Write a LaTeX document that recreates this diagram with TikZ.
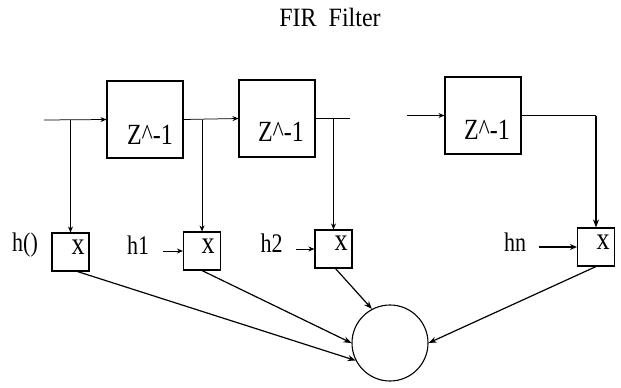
\documentclass[tikz,border=0pt]{standalone}
\usepackage{fontspec}
\usepackage{graphicx}
\setmainfont{Liberation Serif}
\usetikzlibrary{arrows.meta,calc}
\newcommand{\tallt}[1]{\scalebox{1}[1.22]{#1}}
\tikzset{
  delaybox/.style={draw,line width=1.1pt,minimum width=76pt,minimum height=77pt,inner sep=0pt},
  multbox/.style={draw,line width=1.1pt,minimum width=37pt,minimum height=38pt,inner sep=0pt},
  sumnode/.style={draw,circle,line width=1.1pt,minimum size=76pt,inner sep=0pt},
  lbl/.style={inner sep=0pt,font=\fontsize{22}{24}\selectfont},
  ztxt/.style={inner sep=0pt,font=\fontsize{24}{26}\selectfont},
  xtxt/.style={inner sep=0pt,font=\fontsize{26}{28}\selectfont},
  sig/.style={line width=0.75pt},
  sigarr/.style={line width=0.75pt,-{Stealth[length=6pt,width=5pt]}},
  diag/.style={line width=1.2pt,-{Stealth[length=8pt,width=6pt]}},
}
\begin{document}
\begin{tikzpicture}[x=1pt,y=-1pt]
\useasboundingbox (0,0) rectangle (621,388);
% title
\node[inner sep=0pt,font=\fontsize{24}{26}\selectfont] (title) at (330,17) {\scalebox{1}[1.1]{FIR\ \ Filter}};
% delay boxes
\node[delaybox] (b1) at (145,119.5) {};
\node[delaybox] (b2) at (277,118.5) {};
\node[delaybox] (b3) at (483,115.5) {};
\node[ztxt] (t1) at (150,135) {\tallt{Z\textasciicircum-1}};
\node[ztxt] (t2) at (281,132) {\tallt{Z\textasciicircum-1}};
\node[ztxt] (t3) at (487,130) {\tallt{Z\textasciicircum-1}};
% multipliers
\node[multbox] (m0) at (70.5,252) {};
\node[multbox] (m1) at (202,251) {};
\node[multbox] (m2) at (333.5,249) {};
\node[multbox] (m3) at (596,247) {};
\node[xtxt] (x0) at (78,247) {\tallt{x}};
\node[xtxt] (x1) at (208,246) {\tallt{x}};
\node[xtxt] (x2) at (341,243) {\tallt{x}};
\node[xtxt] (x3) at (603,242) {\tallt{x}};
% coefficient labels
\node[lbl] (h0) at (25,245) {\tallt{h()}};
\node[lbl] (h1) at (138,245) {\tallt{h1}};
\node[lbl] (h2) at (271.5,243) {\tallt{h2}};
\node[lbl] (hn) at (515,242) {\tallt{hn}};
% summer
\node[sumnode] (s) at (390,343) {};
% coordinates
\coordinate (in0) at (44,120);
\coordinate (br0) at (70.5,120);
\coordinate (br1) at (202,120);
\coordinate (br2) at (333.5,118.5);
\coordinate (end2) at (350,118.5);
\coordinate (in3) at (407,115.5);
\coordinate (br3) at (596,115.5);
\coordinate (a1) at (163,251);
\coordinate (a2) at (296,249);
\coordinate (an) at (539,247);
% signal path
\draw[sigarr] (in0) -- (b1.west);
\draw[sigarr] (br0) -- (m0.north);
\draw[sigarr] (b1.east) -- (b2.west);
\draw[sigarr] (br1) -- (m1.north);
\draw[sig] (b2.east) -- (end2);
\draw[sigarr] (br2) -- (m2.north);
\draw[line width=1pt,-{Stealth[length=6pt,width=5pt]}] (in3) -- (b3.west);
\draw[line width=1pt] (b3.east) -- (br3);
\draw[line width=2.2pt,-{Stealth[length=8pt,width=6pt]}] (br3) -- (m3.north);
% coefficient arrows
\draw[line width=1pt,-{Stealth[length=6pt,width=5pt]}] (a1) -- (m1.west);
\draw[line width=1pt,-{Stealth[length=6pt,width=5pt]}] (a2) -- (m2.west);
\draw[line width=1.5pt,-{Stealth[length=7pt,width=6pt]}] (an) -- (m3.west);
% to summer
\draw[diag] ([xshift=7pt]m0.south) -- (s.207);
\draw[diag] (m1.south) -- (s.west);
\draw[diag] ([xshift=2pt]m2.south) -- (s.118);
\draw[diag] (m3.south) -- (s.east);
\end{tikzpicture}
\end{document}
